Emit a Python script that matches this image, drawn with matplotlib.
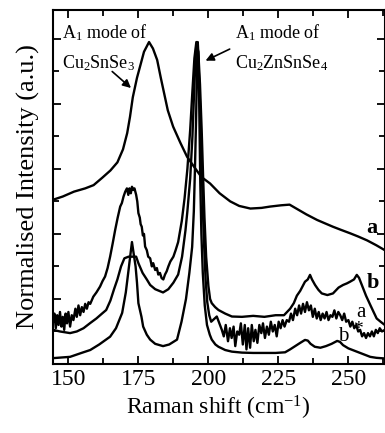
import matplotlib
matplotlib.use("Agg")
import matplotlib.pyplot as plt
from matplotlib.ticker import MultipleLocator

plt.rcParams['font.family'] = ['Liberation Serif', 'DejaVu Serif']
plt.rcParams['mathtext.fontset'] = 'custom'
plt.rcParams['mathtext.rm'] = 'Liberation Serif'
plt.rcParams['mathtext.it'] = 'Liberation Serif:italic'

# curve a : Cu2SnSe3 reference spectrum (top)
a_x = [144.5, 148, 152, 156, 159, 162, 165, 167.5, 169.5, 171, 172, 173, 174.5,
       175.6, 177, 178.8, 180.2, 181.7, 183, 184, 185.5, 187.4, 190, 192.4, 195,
       197.5, 200.6, 204, 207.8, 211, 215, 219, 222, 226, 229, 232, 235, 238.8,
       241.5, 244.5, 247.5, 250.6, 253.5, 256.7, 260, 263]
a_y = [5.05, 5.15, 5.3, 5.4, 5.5, 5.72, 5.95, 6.2, 6.6, 7.1, 7.6, 8.2, 8.8,
       9.15, 9.6, 9.9, 9.7, 9.35, 8.8, 8.4, 7.8, 7.3, 6.8, 6.37, 6.05,
       5.75, 5.55, 5.25, 5.0, 4.86, 4.78, 4.8, 4.84, 4.88, 4.9, 4.75, 4.6, 4.43,
       4.33, 4.22, 4.12, 4.02, 3.92, 3.8, 3.65, 3.5]

# curve b (noisy, second from top)
b_x = [144.5, 145, 145.5, 146, 146.5, 147, 147.5, 148, 148.5, 149, 149.5, 150,
       150.6, 151.2, 151.8, 152.5, 153, 153.6, 154.2, 154.8, 155.4, 156, 156.6,
       157.2, 157.8, 158.9, 160, 161.3, 162.2, 163.1, 164, 164.9, 165.8, 166.7,
       167.6, 168.5, 169.1, 169.7, 170.3, 170.9, 171.4, 171.8, 172.3, 172.7,
       173.2, 173.6, 174.2, 174.6, 175, 175.5, 175.8, 176.2, 176.6, 177, 177.4,
       178, 178.5, 179.2, 179.8, 180.3, 181, 181.6, 182.1, 182.7, 183.3, 183.9,
       184.5, 185.1, 185.7, 186.4, 187.5, 188.3, 189.2, 190.5, 191.5, 192.5,
       193.5, 194.3, 195, 195.7, 196.4, 197, 197.6, 198.1, 198.6, 199.2, 200,
       200.6, 201.2, 202.4, 203.6, 206, 208.4, 212, 216, 220, 224, 227, 229.2,
       230.5, 231.6, 232.8, 234.5, 235.5, 236.3, 237, 238.1, 239.3, 240.5,
       242.5, 244.5, 246.5, 248.1, 249.5, 250.6, 252, 253, 253.8, 254.8, 256.3,
       257.8, 259, 260.1, 261.5, 263]
b_y = [1.3, 1.55, 1.1, 1.5, 1.2, 1.6, 1.15, 1.45, 1.05, 1.55, 1.25, 1.6,
       1.15, 1.5, 1.35, 1.7, 1.45, 1.8, 1.5, 1.75, 1.6, 1.85, 1.7,
       1.9, 1.85, 2.07, 2.2, 2.38, 2.55, 2.69, 2.95, 3.3, 3.7, 4.12,
       4.5, 4.84, 4.95, 5.15, 5.3, 5.4, 5.2, 5.4, 5.25, 5.45,
       5.35, 5.4, 5.2, 5.0, 4.64, 4.5, 4.3, 4.22, 3.95, 4.0, 3.61,
       3.5, 3.3, 3.25, 3.0, 3.1, 2.89, 2.95, 2.75, 2.8, 2.64, 2.6,
       2.75, 2.85, 3.0, 3.15, 3.3, 3.5, 3.75, 4.4, 5.1, 6.0,
       7.2, 8.4, 9.4, 9.9, 9.6, 8.6, 7.2, 5.8, 4.5, 3.3, 2.4,
       2.0, 1.87, 1.75, 1.66, 1.55, 1.46, 1.45, 1.48, 1.45, 1.5, 1.5, 1.7,
       1.87, 2.1, 2.25, 2.53, 2.6, 2.74, 2.6, 2.43, 2.28, 2.17,
       2.12, 2.17, 2.35, 2.43, 2.48, 2.53, 2.6, 2.74, 2.65, 2.43, 2.1,
       1.82, 1.6, 1.4, 1.3, 1.2]

# curve a* (third from top)
as_x = [144.5, 147, 150.6, 153, 155.4, 157.8, 160, 162, 163.5, 165, 166.3, 167.5,
        168.8, 170, 171.5, 173, 174.2, 175, 176.5, 178, 179.2, 181, 183.8, 185.7,
        187.5, 189.2, 190.6, 191.8, 192.5, 193.5, 194.3, 195, 195.7, 196.3, 196.9,
        197.5, 198, 198.5, 199, 199.6, 200.3, 201, 203, 204.8, 205.5, 206.2, 207,
        207.7, 208.3, 209, 209.6, 210.3, 211, 211.6, 212.3, 213, 213.6, 214.2,
        214.9, 215.5, 216.2, 216.8, 217.5, 218.2, 218.9, 219.5, 220.2, 220.9,
        221.6, 222.3, 223, 223.7, 224.4, 225.1, 225.8, 226.5, 227.2, 228, 228.8,
        229.5, 230.2, 231, 231.7, 232.4, 233.1, 233.8, 234.5, 235.2, 235.9, 236.6,
        237.3, 238, 238.7, 239.4, 240.1, 240.8, 241.5, 242.2, 242.9, 243.6, 244.3,
        245, 245.7, 246.4, 247.1, 247.8, 248.5, 249.2, 250, 250.7, 251.4, 252.1,
        252.8, 253.5, 254.2, 254.9, 255.6, 256.3, 257, 257.7, 258.4, 259.1, 259.8,
        260.5, 261.2, 262, 263]
as_y = [1.05, 1.0, 0.95, 1.0, 1.1, 1.26, 1.4, 1.55, 1.66, 1.95, 2.3, 2.6,
        3.0, 3.25, 3.3, 3.3, 3.3, 3.1, 2.8, 2.6, 2.43, 2.3, 2.2, 2.3,
        2.5, 2.75, 3.3, 4.1, 4.7, 5.7, 7.0, 8.6, 9.85, 9.6, 8.3,
        6.4, 4.8, 3.6, 2.6, 1.9, 1.5, 1.3, 1.46, 1.05, 0.85, 1.2, 0.7,
        1.1, 0.8, 1.15, 0.55, 1.0, 0.9, 1.25, 0.6, 1.2, 0.45, 1.1,
        0.5, 1.2, 0.7, 1.05, 0.65, 1.2, 0.95, 1.25, 0.8, 1.15,
        0.9, 1.3, 1.0, 1.2, 0.85, 1.3, 1.1, 1.35, 1.15, 1.35, 1.3,
        1.55, 1.35, 1.7, 1.5, 1.8, 1.55, 1.85, 1.6, 1.9, 1.65, 1.8,
        1.45, 1.7, 1.4, 1.6, 1.35, 1.55, 1.4, 1.6, 1.35, 1.5, 1.45,
        1.65, 1.4, 1.6, 1.5, 1.35, 1.55, 1.3, 1.35, 1.15, 1.3, 1.1,
        1.2, 1.0, 1.05, 0.85, 0.95, 0.8, 0.95, 0.85, 1.0, 0.85, 1.05,
        0.95, 1.1, 1.0, 1.05]

# curve b* (bottom)
bs_x = [144.5, 150.6, 155, 157.8, 161, 164.9, 167, 169.2, 170.5, 171.5, 172.2,
        172.7, 173.3, 174, 174.5, 175, 176.1, 176.7, 178, 179.2, 181, 183.8, 186,
        188.8, 190.4, 192, 193.2, 194.2, 194.8, 195.2, 195.6, 195.9, 196.2, 196.5,
        196.8, 197.1, 197.5, 198, 198.7, 199.5, 200.5, 201.2, 202.5, 203.6, 206,
        208.4, 212, 216, 220, 224, 227.4, 229.2, 231, 232.8, 234.5, 235.5, 236.5,
        238, 240, 242, 244, 246, 247, 248.1, 250, 253, 256, 257.8, 260, 263]
bs_y = [0.18, 0.22, 0.35, 0.43, 0.6, 0.84, 1.1, 1.57, 2.2, 2.9, 3.4,
        3.75, 3.4, 3.0, 2.5, 1.87, 1.45, 1.15, 0.9, 0.75, 0.62, 0.55, 0.6,
        0.75, 1.3, 2.0, 2.8, 3.6, 4.7, 6.0, 7.5, 9.0, 9.9, 9.4,
        7.5, 5.6, 4.0, 2.8, 1.8, 1.2, 0.9, 0.75, 0.6, 0.53, 0.43,
        0.38, 0.35, 0.34, 0.34, 0.34, 0.36, 0.45, 0.55, 0.65, 0.74, 0.72, 0.62,
        0.53, 0.5, 0.55, 0.62, 0.71, 0.68, 0.58, 0.48, 0.38, 0.28, 0.22, 0.19, 0.17]

fig = plt.figure(figsize=(3.85, 4.33), dpi=100)
ax = fig.add_axes([53 / 385, 1 - 364 / 433, 331.5 / 385, 354.5 / 433])

for xs, ys in [(a_x, a_y), (b_x, b_y), (as_x, as_y), (bs_x, bs_y)]:
    ax.plot(xs, ys, color='black', lw=1.7)

ax.set_xlim(144.5, 262.9)
ax.set_ylim(0, 10.9)
ax.xaxis.set_major_locator(MultipleLocator(25))
ax.xaxis.set_minor_locator(MultipleLocator(12.5))
ax.yaxis.set_major_locator(MultipleLocator(2))
ax.yaxis.set_minor_locator(MultipleLocator(1))
ax.tick_params(which='both', direction='in', top=True, right=True, width=1.3)
ax.tick_params(which='major', length=6, labelsize=17)
ax.tick_params(which='minor', length=4.5)
ax.tick_params(axis='y', labelleft=False)
for sp in ax.spines.values():
    sp.set_linewidth(1.5)

ax.set_xlabel(r'Raman shift (cm$^{\mathrm{-1}}$)', fontsize=17, labelpad=3)
ax.set_ylabel('Normalised Intensity (a.u.)', fontsize=19, labelpad=6)

# peak annotations
ax.text(147.7, 10.2, r'A$_{\mathrm{1}}$ mode of', fontsize=13, ha='left', va='center')
ax.text(147.7, 9.26, r'Cu$_{\mathrm{2}}$SnSe$_{\mathrm{3}}$', fontsize=13, ha='left', va='center')
ax.annotate('', xy=(173.1, 8.43), xytext=(164.9, 9.05),
            arrowprops=dict(arrowstyle='-|>', color='black', lw=1.2, mutation_scale=12))
ax.text(209.5, 10.2, r'A$_{\mathrm{1}}$ mode of', fontsize=13, ha='left', va='center')
ax.text(209.5, 9.26, r'Cu$_{\mathrm{2}}$ZnSnSe$_{\mathrm{4}}$', fontsize=13, ha='left', va='center')
ax.annotate('', xy=(198.1, 9.29), xytext=(208.5, 9.72),
            arrowprops=dict(arrowstyle='-|>', color='black', lw=1.2, mutation_scale=12))

# curve labels
ax.text(258.4, 4.18, 'a', fontsize=16, fontweight='bold', ha='center', va='center')
ax.text(258.8, 2.49, 'b', fontsize=16, fontweight='bold', ha='center', va='center')
ax.text(254.4, 1.57, 'a', fontsize=15, ha='center', va='center')
ax.text(253.4, 1.05, '*', fontsize=14, ha='center', va='center')
ax.text(248.1, 0.84, 'b', fontsize=15, ha='center', va='center')

fig.savefig('out.png', dpi=100)
